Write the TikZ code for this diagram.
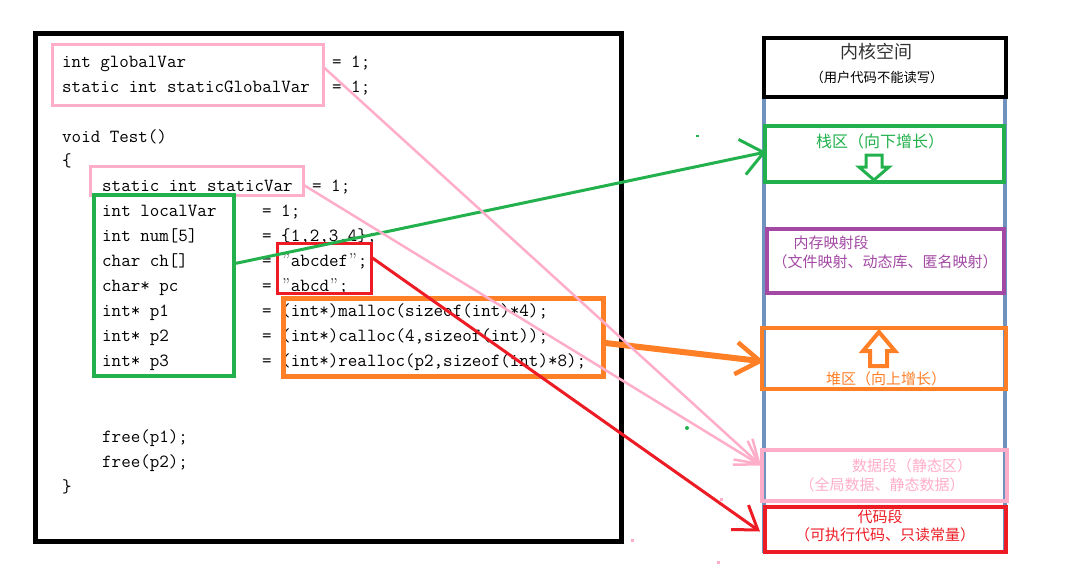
\documentclass[tikz,border=0pt]{standalone}
\usepackage{fontspec}
\newfontfamily\cjk{Noto Sans CJK SC}
\usetikzlibrary{arrows.meta,fit,calc}
\definecolor{cgreen}{HTML}{22B14C}
\definecolor{corange}{HTML}{FF7F27}
\definecolor{cpurple}{HTML}{A349A4}
\definecolor{cpink}{HTML}{FFAEC9}
\definecolor{cred}{HTML}{ED1C24}
\definecolor{cblue}{HTML}{7092BE}
\newcommand{\cq}{\makebox[9.71pt]{\rmfamily ”}}
\begin{document}
\begin{tikzpicture}[x=1pt,y=-1pt,
  code/.style={anchor=base west,inner sep=0pt,font=\ttfamily\fontsize{18.5}{25}\selectfont},
  frame/.style={draw,inner sep=0pt,line join=miter},
  cjkt/.style={inner sep=0pt,font=\cjk\fontsize{15}{18}\selectfont},
]
\path[fill=white] (0,0) rectangle (1074,587);

% ---------------- left code panel ----------------
\node[frame,line width=5pt,fit={(35,33) (621,541)}] (panel) {};

\node[code] (l1a) at (62,67) {int globalVar};
\node[code] (l1b) at (332,67) {= 1;};
\node[code] (l2a) at (62,92) {static int staticGlobalVar};
\node[code] (l2b) at (332,92) {= 1;};
\node[code] (l3) at (62,142) {void Test()};
\node[code] (l4) at (62,166) {\{};
\node[code] (l5a) at (102,191) {static int staticVar};
\node[code] (l5b) at (312,191) {= 1;};
\node[code] (l6a) at (102,216) {int localVar};
\node[code] (l6b) at (262,216) {= 1;};
\node[code] (l7a) at (102,241) {int num[5]};
\node[code] (l7b) at (262,241) {= \{1,2,3,4\};};
\node[code] (l8a) at (102,266) {char ch[]};
\node[code] (l8b) at (262,266) {= \cq abcdef\cq;};
\node[code] (l9a) at (102,291) {char* pc};
\node[code] (l9b) at (262,291) {= \cq abcd\cq;};
\node[code] (l10a) at (102,316) {int* p1};
\node[code] (l10b) at (262,316) {= (int*)malloc(sizeof(int)*4);};
\node[code] (l11a) at (102,341) {int* p2};
\node[code] (l11b) at (262,341) {= (int*)calloc(4,sizeof(int));};
\node[code] (l12a) at (102,366) {int* p3};
\node[code] (l12b) at (262,366) {= (int*)realloc(p2,sizeof(int)*8);};
\node[code] (l13) at (102,442) {free(p1);};
\node[code] (l14) at (102,467) {free(p2);};
\node[code] (l15) at (62,492) {\}};

% highlight boxes
\node[frame,draw=cpink,line width=3pt,fit={(52,44) (323,105)}] (gbox) {};
\node[frame,draw=cpink,line width=3pt,fit={(90,166) (303,195)}] (svbox) {};
\node[frame,draw=cgreen,line width=4pt,fit={(94,195) (234,376)}] (locals) {};
\node[frame,draw=cred,line width=3pt,fit={(277,243) (371,293)}] (strbox) {};
\node[frame,draw=corange,line width=5pt,fit={(283,298) (603,376)}] (heapcode) {};

% ---------------- right memory layout ----------------
\draw[cblue,line width=4pt] (764,96) -- (764,553);
\draw[cblue,line width=4pt] (1005,96) -- (1005,553);

\node[frame,line width=4pt,fill=white,fit={(764,38) (1006,97)}] (kernel) {};
\node[inner sep=0pt,text=black!80,font=\cjk\fontsize{18}{20}\selectfont] (kt1) at (876,52) {内核空间};
\node[inner sep=0pt,font=\cjk\fontsize{13.3}{15}\selectfont] (kt2) at (877,77) {（用户代码不能读写）};

\node[frame,draw=cgreen,line width=4pt,fit={(765,126) (1004,182)}] (stack) {};
\node[cjkt,text=cgreen,font=\cjk\fontsize{16}{18}\selectfont] (st) at (880,141) {栈区（向下增长）};
\draw[cgreen,line width=3pt,line join=miter]
  (866,155) -- (882,155) -- (882,167) -- (889,167) -- (874,180) -- (859,167) -- (866,167) -- cycle;

\node[frame,draw=cpurple,line width=4pt,fit={(767,229) (1004,293)}] (mmap) {};
\node[cjkt,text=cpurple] (mt1) at (831,243) {内存映射段};
\node[cjkt,text=cpurple] (mt2) at (885,262) {（文件映射、动态库、匿名映射）};

\node[frame,draw=corange,line width=4pt,fit={(762,328) (1006,389)}] (heap) {};
\draw[corange,line width=4pt,line join=miter]
  (879,332) -- (895,351) -- (887,351) -- (887,366) -- (870,366) -- (870,351) -- (863,351) -- cycle;
\node[cjkt,text=corange] (ht) at (886,379) {堆区（向上增长）};

\node[frame,draw=cpink,line width=4pt,fit={(762,450) (1007,501)}] (data) {};
\node[cjkt,text=cpink] (dt1) at (912,466) {数据段（静态区）};
\node[cjkt,text=cpink] (dt2) at (882,485) {（全局数据、静态数据）};

\node[frame,draw=cred,line width=4pt,fit={(765,507) (1006,552)}] (codeseg) {};
\node[cjkt,text=cred] (ct1) at (880,517) {代码段};
\node[cjkt,text=cred] (ct2) at (885,535) {（可执行代码、只读常量）};

% ---------------- connectors ----------------
\draw[cgreen,line width=3pt,-{Straight Barb[length=22pt,width=36pt]}]
  ($(locals.north east)!0.38!(locals.south east)$) -- ([xshift=3pt,yshift=2pt]stack.west);
\draw[corange,line width=6pt,-{Straight Barb[length=24pt,width=32pt,line width=4.5pt]}]
  ([yshift=-6pt]heapcode.east) -- ([xshift=4pt,yshift=-3pt]heap.west);
\draw[cpink,line width=2.5pt,-{Straight Barb[length=22pt,width=28pt]}]
  ([yshift=6.5pt]gbox.east) -- ([xshift=1pt,yshift=10pt]data.west);
\draw[cpink,line width=2.5pt,-{Straight Barb[length=22pt,width=28pt]}]
  ([yshift=-5pt]svbox.east) -- ([xshift=1pt,yshift=10pt]data.west);
\draw[cred,line width=3pt,-{Straight Barb[length=22pt,width=30pt]}]
  ([yshift=10pt]strbox.east) -- ([xshift=-3pt,yshift=-2pt]codeseg.west);

% stray specks
\fill[cgreen] (696,135) rectangle (699,137);
\fill[cgreen] (687,428) circle (2);
\fill[cpink] (720,498) rectangle (723,501);
\fill[cpink] (631,539) rectangle (634,542);
\fill[cpink] (717,561) rectangle (720,564);
\end{tikzpicture}
\end{document}
